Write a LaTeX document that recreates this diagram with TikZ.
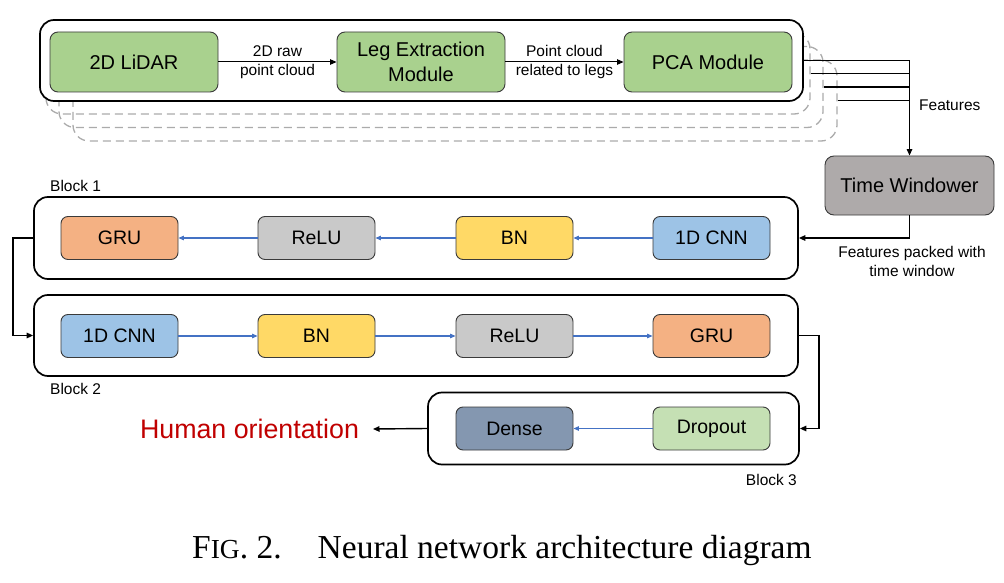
\documentclass[tikz,border=0pt]{standalone}
\usepackage{fontspec}
\setmainfont{Liberation Serif}
\setsansfont{Liberation Sans}
\usetikzlibrary{arrows.meta,calc}
\definecolor{cGreen}{HTML}{A9D18E}
\definecolor{cTW}{HTML}{AEAAAA}
\definecolor{cRelu}{HTML}{C9C9C9}
\definecolor{cBN}{HTML}{FFD966}
\definecolor{cCNN}{HTML}{9DC3E6}
\definecolor{cGRU}{HTML}{F4B183}
\definecolor{cDense}{HTML}{8497B0}
\definecolor{cDrop}{HTML}{C5E0B4}
\definecolor{cBlue}{HTML}{4472C4}
\definecolor{cRed}{HTML}{C00000}
\definecolor{cBorder}{HTML}{3A3A3A}
\definecolor{cDash}{HTML}{ABABAB}
\begin{document}
\begin{tikzpicture}[x=1pt,y=-1pt,
  font=\sffamily,
  outerbox/.style={draw=black, line width=1.7pt, rounded corners=14pt, fill=white, inner sep=0pt},
  ghostbox/.style={draw=cDash, line width=1.3pt, dash pattern=on 8pt off 5pt, rounded corners=16pt, inner sep=0pt, minimum width=764, minimum height=81},
  topnode/.style={draw=cBorder, line width=0.9pt, rounded corners=8pt, fill=cGreen, minimum width=168, minimum height=60, align=center, font=\sffamily\fontsize{20}{25}\selectfont},
  layer/.style={draw=cBorder, line width=0.9pt, rounded corners=7pt, minimum width=117, minimum height=43, font=\sffamily\fontsize{19.5}{24}\selectfont},
  lbl/.style={font=\sffamily\fontsize{15.5}{19}\selectfont, align=center, inner sep=0pt},
  conn/.style={draw=black, line width=1.4pt, -{Triangle[length=6.5pt,width=5.5pt]}},
  plainconn/.style={draw=black, line width=1.4pt},
  bluearrow/.style={draw=cBlue, line width=1.1pt, -{Triangle[length=5.5pt,width=4.5pt]}}
]
\useasboundingbox (0,0) rectangle (1004,583);

% ghost copies of the top block
\node[ghostbox] (g3) at (455,100.5) {};
\node[ghostbox] (g2) at (441,87) {};
\node[ghostbox] (g1) at (428,73.5) {};
% main top block
\node[outerbox, minimum width=763, minimum height=81] (top) at (421.5,60.5) {};

\node[topnode] (lidar) at (134,62) {2D LiDAR};
\node[topnode] (leg) at (421,62) {Leg Extraction\\Module};
\node[topnode] (pca) at (708,62) {PCA Module};

\draw[conn, line width=1pt] (lidar) -- (leg) node[midway, lbl] {2D raw\\point cloud};
\draw[conn, line width=1pt] (leg) -- (pca) node[midway, lbl] {Point cloud\\related to legs};

% time windower
\node[draw=cBorder, line width=0.9pt, rounded corners=9pt, fill=cTW, minimum width=169, minimum height=59, font=\sffamily\fontsize{20}{25}\selectfont] (tw) at (909.5,185.5) {Time Windower};

% features lines
\draw[conn] (top.east) -| (tw.north);
\draw[plainconn] (g1.east) -- (g1.east -| tw.north);
\draw[plainconn] (g2.east) -- (g2.east -| tw.north);
\draw[plainconn] (g3.east) -- (g3.east -| tw.north);
\node[lbl, anchor=west] (featlbl) at (919,105) {Features};

% blocks
\node[outerbox, minimum width=764, minimum height=82] (b1) at (416,238) {};
\node[outerbox, minimum width=764, minimum height=81] (b2) at (416,335.5) {};
\node[outerbox, minimum width=371, minimum height=72] (b3) at (613.5,428.5) {};

\node[lbl, anchor=west] (b1lbl) at (50,186) {Block 1};
\node[lbl, anchor=west] (b2lbl) at (50,389) {Block 2};
\node[lbl, anchor=east] (b3lbl) at (797,480) {Block 3};

% block 1 layers
\node[layer, fill=cGRU] (gru1) at (119.5,238) {GRU};
\node[layer, fill=cRelu] (relu1) at (316.5,238) {ReLU};
\node[layer, fill=cBN] (bn1) at (514.5,238) {BN};
\node[layer, fill=cCNN] (cnn1) at (711.5,238) {1D CNN};
\draw[bluearrow] (cnn1) -- (bn1);
\draw[bluearrow] (bn1) -- (relu1);
\draw[bluearrow] (relu1) -- (gru1);

% block 2 layers
\node[layer, fill=cCNN] (cnn2) at (119.5,336) {1D CNN};
\node[layer, fill=cBN] (bn2) at (316.5,336) {BN};
\node[layer, fill=cRelu] (relu2) at (514.5,336) {ReLU};
\node[layer, fill=cGRU] (gru2) at (711.5,336) {GRU};
\draw[bluearrow] (cnn2) -- (bn2);
\draw[bluearrow] (bn2) -- (relu2);
\draw[bluearrow] (relu2) -- (gru2);

% block 3 layers
\node[layer, fill=cDense] (dense) at (514.5,428.5) {Dense};
\node[layer, fill=cDrop] (drop) at (711.5,428.5) {Dropout};
\draw[bluearrow] (drop) -- (dense);

% connectors between blocks
\draw[conn] (tw.south) |- (b1.east);
\node[lbl] (twlbl) at (912,261.5) {Features packed with\\time window};
\draw[conn] (b1.west) -- ++(-20,0) |- (b2.west);
\draw[conn] (b2.east) -- ++(20,0) |- (b3.east);

% output
\node[font=\sffamily\fontsize{26.8}{30}\selectfont, text=cRed, inner sep=0pt] (ho) at (249.5,429) {Human orientation};
\coordinate (hoend) at (373,429);
\draw[conn] (b3.west) -- (hoend);

% caption
\node[font=\rmfamily\fontsize{33.5}{38}\selectfont, anchor=west, inner sep=0pt] (cap) at (192,550)
  {F{\fontsize{27.5}{30}\selectfont IG}. 2.\hspace{36pt}Neural network architecture diagram};
\end{tikzpicture}
\end{document}
